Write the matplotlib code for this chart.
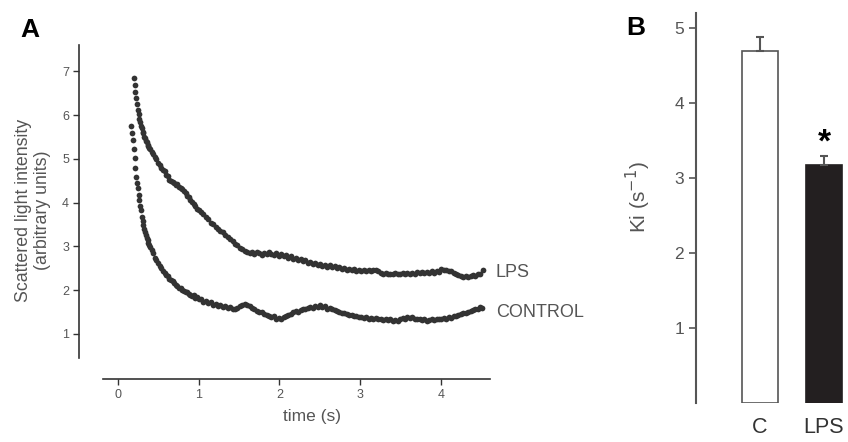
import numpy as np
import matplotlib
matplotlib.use("Agg")
import matplotlib.pyplot as plt

plt.rcParams['font.family'] = ['Liberation Sans', 'DejaVu Sans']

# panel A: scattered light intensity vs time
ctrl_t = [0.17, 0.18, 0.19, 0.20, 0.21, 0.22, 0.23, 0.24, 0.25, 0.26, 0.27, 0.28, 0.29, 0.30,
          0.31, 0.32, 0.33, 0.34, 0.35, 0.36, 0.37, 0.38, 0.39, 0.40,
          0.42, 0.44, 0.46, 0.48, 0.50, 0.52, 0.54, 0.56, 0.58, 0.60, 0.62, 0.64, 0.66, 0.68,
          0.70, 0.72, 0.74, 0.76, 0.78, 0.80, 0.82, 0.84, 0.86, 0.88, 0.90, 0.92, 0.94, 0.96,
          0.98, 1.00,
          1.03, 1.06, 1.09, 1.12, 1.15, 1.18, 1.21, 1.24, 1.27, 1.30, 1.33, 1.36, 1.39, 1.42,
          1.45, 1.48, 1.51, 1.54, 1.57, 1.60, 1.63, 1.66, 1.69, 1.72, 1.75, 1.78, 1.81, 1.84,
          1.87, 1.90, 1.93, 1.96, 1.99, 2.02, 2.05, 2.08, 2.11, 2.14, 2.17, 2.20, 2.23, 2.26,
          2.29, 2.32, 2.35, 2.38, 2.41, 2.44, 2.47, 2.50, 2.53, 2.56, 2.59, 2.62, 2.65, 2.68,
          2.71, 2.74, 2.77, 2.80, 2.83, 2.86, 2.89, 2.92, 2.95, 2.98, 3.01, 3.04, 3.07, 3.10,
          3.13, 3.16, 3.19, 3.22, 3.25, 3.28, 3.31, 3.34, 3.37, 3.40, 3.43, 3.46, 3.49, 3.52,
          3.55, 3.58, 3.61, 3.64, 3.67, 3.70, 3.73, 3.76, 3.79, 3.82, 3.85, 3.88, 3.91, 3.94,
          3.97, 4.00, 4.03, 4.06, 4.09, 4.12, 4.15, 4.18, 4.21, 4.24, 4.27, 4.30, 4.33, 4.36,
          4.39, 4.42, 4.45, 4.48, 4.50]
ctrl_y = [5.74, 5.58, 5.42, 5.22, 5.02, 4.80, 4.58, 4.45, 4.33, 4.18, 4.05, 3.93, 3.82, 3.68,
          3.57, 3.48, 3.40, 3.33, 3.26, 3.20, 3.14, 3.08, 3.02, 2.98,
          2.92, 2.84, 2.74, 2.68, 2.62, 2.55, 2.50, 2.44, 2.40, 2.34, 2.33, 2.26, 2.24, 2.20,
          2.17, 2.12, 2.10, 2.06, 2.05, 2.00, 1.99, 1.95, 1.96, 1.91, 1.90, 1.87, 1.89, 1.83,
          1.84, 1.80,
          1.79, 1.74, 1.76, 1.70, 1.72, 1.66, 1.68, 1.63, 1.66, 1.62, 1.64, 1.59, 1.61, 1.56,
          1.58, 1.60, 1.63, 1.66, 1.68, 1.67, 1.64, 1.60, 1.57, 1.53, 1.50, 1.49, 1.45, 1.43,
          1.41, 1.38, 1.40, 1.35, 1.37, 1.34, 1.38, 1.40, 1.43, 1.46, 1.49, 1.52, 1.50, 1.55,
          1.57, 1.56, 1.60, 1.62, 1.60, 1.64, 1.62, 1.65, 1.61, 1.63, 1.58, 1.60, 1.56, 1.54,
          1.52, 1.50, 1.48, 1.47, 1.45, 1.43, 1.44, 1.40, 1.41, 1.38, 1.39, 1.36, 1.38, 1.35,
          1.37, 1.34, 1.36, 1.33, 1.35, 1.32, 1.34, 1.31, 1.33, 1.30, 1.32, 1.30, 1.34, 1.36,
          1.33, 1.38, 1.36, 1.39, 1.35, 1.33, 1.35, 1.31, 1.33, 1.30, 1.32, 1.34, 1.31, 1.33,
          1.35, 1.33, 1.36, 1.35, 1.38, 1.37, 1.40, 1.42, 1.43, 1.45, 1.47, 1.48, 1.50, 1.52,
          1.54, 1.56, 1.58, 1.62, 1.60]

lps_t = [0.20, 0.21, 0.22, 0.23, 0.24, 0.25, 0.26, 0.27, 0.28, 0.29, 0.30, 0.31, 0.32, 0.33,
         0.34, 0.35, 0.36, 0.37, 0.38, 0.39, 0.40,
         0.42, 0.44, 0.46, 0.48, 0.50, 0.52, 0.54, 0.56, 0.58, 0.60, 0.62, 0.64, 0.66, 0.68,
         0.70, 0.72, 0.74, 0.76, 0.78, 0.80, 0.82, 0.84, 0.86, 0.88, 0.90, 0.92, 0.94, 0.96,
         0.98, 1.00,
         1.03, 1.06, 1.09, 1.12, 1.15, 1.18, 1.21, 1.24, 1.27, 1.30, 1.33, 1.36, 1.39, 1.42,
         1.45, 1.48, 1.51, 1.54, 1.57, 1.60, 1.63, 1.66, 1.69, 1.72, 1.75, 1.78, 1.81, 1.84,
         1.87, 1.90, 1.93, 1.96, 1.99, 2.02, 2.05, 2.08, 2.11, 2.14, 2.17, 2.20, 2.23, 2.26,
         2.29, 2.32, 2.35, 2.38, 2.41, 2.44, 2.47, 2.50, 2.53, 2.56, 2.59, 2.62, 2.65, 2.68,
         2.71, 2.74, 2.77, 2.80, 2.83, 2.86, 2.89, 2.92, 2.95, 2.98, 3.01, 3.04, 3.07, 3.10,
         3.13, 3.16, 3.19, 3.22, 3.25, 3.28, 3.31, 3.34, 3.37, 3.40, 3.43, 3.46, 3.49, 3.52,
         3.55, 3.58, 3.61, 3.64, 3.67, 3.70, 3.73, 3.76, 3.79, 3.82, 3.85, 3.88, 3.91, 3.94,
         3.97, 4.00, 4.03, 4.06, 4.09, 4.12, 4.15, 4.18, 4.21, 4.24, 4.27, 4.30, 4.33, 4.36,
         4.39, 4.42, 4.45, 4.48, 4.51]
lps_y = [6.84, 6.68, 6.52, 6.38, 6.25, 6.12, 6.02, 5.92, 5.84, 5.76, 5.70, 5.62, 5.58, 5.50,
         5.47, 5.40, 5.38, 5.32, 5.30, 5.24, 5.22,
         5.15, 5.12, 5.04, 5.00, 4.90, 4.86, 4.80, 4.74, 4.72, 4.62, 4.60, 4.52, 4.50, 4.46,
         4.44, 4.40, 4.42, 4.36, 4.34, 4.30, 4.26, 4.22, 4.16, 4.12, 4.06, 4.02, 3.96, 3.92,
         3.86, 3.84,
         3.78, 3.74, 3.66, 3.62, 3.54, 3.50, 3.44, 3.40, 3.36, 3.32, 3.26, 3.22, 3.16, 3.12,
         3.06, 3.02, 2.96, 2.94, 2.90, 2.88, 2.84, 2.86, 2.82, 2.86, 2.84, 2.80, 2.85, 2.82,
         2.86, 2.83, 2.80, 2.84, 2.79, 2.82, 2.77, 2.80, 2.74, 2.77, 2.72, 2.74, 2.69, 2.71,
         2.66, 2.68, 2.63, 2.65, 2.60, 2.62, 2.58, 2.60, 2.56, 2.57, 2.54, 2.58, 2.53, 2.55,
         2.50, 2.52, 2.49, 2.51, 2.47, 2.49, 2.45, 2.48, 2.44, 2.46, 2.43, 2.45, 2.44, 2.46,
         2.44, 2.47, 2.45, 2.43, 2.40, 2.38, 2.39, 2.37, 2.38, 2.37, 2.39, 2.37, 2.38, 2.40,
         2.38, 2.39, 2.37, 2.40, 2.38, 2.41, 2.39, 2.42, 2.39, 2.41, 2.40, 2.43, 2.40, 2.44,
         2.42, 2.48, 2.45, 2.46, 2.43, 2.44, 2.40, 2.38, 2.34, 2.32, 2.31, 2.33, 2.31, 2.32,
         2.34, 2.33, 2.36, 2.38, 2.46]

# panel B: Ki rate constants
groups = ["C", "LPS"]
ki_mean = [4.70, 3.17]
ki_err = [0.18, 0.12]

dark = "#333333"
grey = "#555555"

fig = plt.figure(figsize=(8.48, 4.42), dpi=100)
W, H = 848.0, 442.0

# ---- panel A
axA = fig.add_axes([103 / W, (H - 358) / H, (490 - 103) / W, (358 - 45) / H])
axA.scatter(ctrl_t, ctrl_y, s=17, color=dark, linewidths=0)
axA.scatter(lps_t, lps_y, s=17, color=dark, linewidths=0)
axA.set_xlim(-0.18, 4.6)
axA.set_ylim(0.45, 7.6)
axA.set_xticks([0, 1, 2, 3, 4])
axA.set_yticks([1, 2, 3, 4, 5, 6, 7])
for side in ["top", "right"]:
    axA.spines[side].set_visible(False)
axA.spines["left"].set_position(("outward", 17))
axA.spines["bottom"].set_position(("outward", 15))
for side in ["left", "bottom"]:
    axA.spines[side].set_color(dark)
    axA.spines[side].set_linewidth(1.2)
axA.tick_params(colors=dark, labelcolor=grey, labelsize=9, length=4, width=1)
axA.set_xlabel("time (s)", fontsize=12.5, color=grey)
axA.xaxis.set_label_coords((312 - 103) / 387, -(409 - 358) / 313)
axA.set_ylabel("Scattered light intensity\n(arbitrary units)", fontsize=12.8,
               color=grey, linespacing=1.15)
axA.yaxis.set_label_coords((51 - 103) / 387, (358 - 210) / 313)
axA.text(4.67, 2.4, "LPS", fontsize=13, color=grey, va="center")
axA.text(4.67, 1.5, "CONTROL", fontsize=13, color=grey, va="center")
fig.text(30 / W, 1 - 30 / H, "A", fontsize=19, fontweight="bold", ha="center", va="center")

# ---- panel B
axB = fig.add_axes([696 / W, (H - 403) / H, (848 - 696) / W, (403 - 13) / H])
x = np.arange(len(groups))
axB.bar(x, ki_mean, width=0.55, color=["white", "#231f20"], edgecolor=[grey, "#231f20"],
        linewidth=1.2, yerr=[[0, 0], ki_err], ecolor=grey,
        error_kw=dict(capsize=3, elinewidth=1.5, capthick=1.5))
axB.set_xlim(-1.0, 1.375)
axB.set_ylim(0, 5.2)
axB.set_yticks([1, 2, 3, 4, 5])
axB.set_xticks(x)
axB.set_xticklabels(groups, fontsize=15.5, color=dark)
axB.tick_params(axis="x", length=0, pad=10)
axB.tick_params(axis="y", colors=grey, labelcolor=grey, labelsize=12.5, length=5, width=1.2)
for side in ["top", "right", "bottom"]:
    axB.spines[side].set_visible(False)
axB.spines["left"].set_color(grey)
axB.spines["left"].set_linewidth(1.5)
axB.set_ylabel("Ki (s$^{-1}$)", fontsize=15, color=grey)
axB.yaxis.set_label_coords((653 - 696) / 152, (403 - 197) / 390)
axB.text(1, ki_mean[1] + ki_err[1] + 0.18, "*", fontsize=24, fontweight="bold",
         ha="center", va="center", color="black")
fig.text(636 / W, 1 - 28 / H, "B", fontsize=19, fontweight="bold", ha="center", va="center")

fig.savefig("out.png", dpi=100)
